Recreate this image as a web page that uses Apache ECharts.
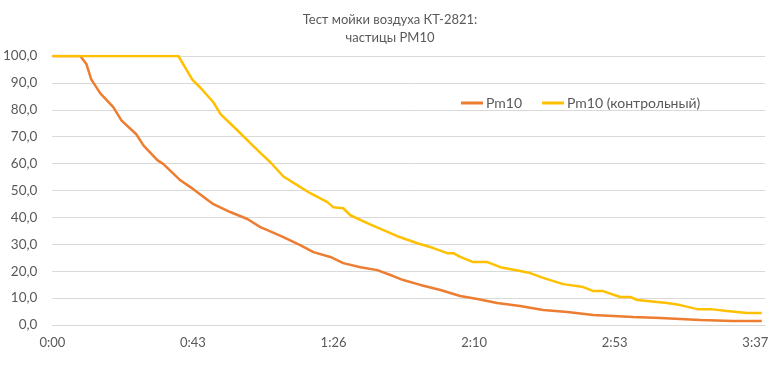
<!DOCTYPE html>
<html><head><meta charset="utf-8">
<script src="https://cdn.jsdelivr.net/npm/echarts@6/dist/echarts.min.js"></script>
<style>html,body{margin:0;padding:0;background:#fff}#c{width:780px;height:381px}</style>
</head><body><div id="c"></div>
<script>
const titleText = 'Тест мойки воздуха КТ-2821:\nчастицы PM10';
const seriesNames = ['Pm10', 'Pm10 (контрольный)'];
const xTickValues = [0, 43.4, 86.8, 130.2, 173.6, 217];
const xTickLabels = ['0:00', '0:43', '1:26', '2:10', '2:53', '3:37'];
// time in minutes
const pm10Times = [0, 8.6, 10.5, 12, 14.8, 18.8, 21.3, 25.9, 28.1, 32.4, 34.3, 39.5, 43.5, 49.7, 54.9, 60.2, 64.2, 66.4, 71.3, 76.5, 80.6, 85.8, 89.8, 95.1, 100.3, 105.2, 108.3, 113.6, 119.8, 125.9, 131.2, 137.3, 144.4, 151.5, 159, 167, 179.3, 187.7, 200, 210.2, 219];
const pm10Values = [100, 100, 97, 91.3, 86.1, 81.0, 76.1, 70.9, 66.8, 61.3, 59.8, 53.8, 50.5, 44.9, 42.0, 39.4, 36.4, 35.3, 32.7, 29.7, 27.1, 25.3, 23.0, 21.5, 20.4, 18.2, 16.7, 14.9, 13.0, 10.8, 9.7, 8.2, 7.1, 5.6, 4.8, 3.7, 3.0, 2.6, 1.9, 1.5, 1.5];
const ctrlTimes = [0, 38.9, 43.2, 45.7, 49.7, 51.9, 57.1, 61.1, 64.2, 67.3, 71.3, 75.6, 79.6, 84.9, 86.7, 89.8, 92, 97.2, 102.2, 106.5, 112.7, 117.6, 121.9, 123.8, 125.9, 129.9, 134.3, 138.3, 144.4, 147.5, 151.5, 157.7, 163.9, 167, 170, 175.3, 178.4, 180.6, 189.8, 193.8, 199.1, 203.1, 208.3, 214.5, 219];
const ctrlValues = [100, 100, 91.2, 88.2, 82.8, 78.4, 72.4, 67.6, 64.0, 60.5, 55.2, 52.0, 49.0, 45.7, 43.8, 43.4, 40.8, 37.9, 35.3, 33.0, 30.4, 28.6, 26.7, 26.7, 25.3, 23.4, 23.4, 21.5, 20.1, 19.3, 17.5, 15.2, 14.1, 12.6, 12.6, 10.4, 10.4, 9.3, 8.2, 7.4, 5.9, 5.9, 5.2, 4.5, 4.5];

const FONT = 'Lato, "Noto Sans", sans-serif';
const TXT = '#595959';
const chart = echarts.init(document.getElementById('c'), null, {renderer: 'canvas'});
chart.setOption({
  animation: false,
  backgroundColor: '#fff',
  title: {
    text: titleText, left: 'center', top: 6,
    textStyle: {fontFamily: FONT, fontSize: 13, fontWeight: 'normal', color: TXT, lineHeight: 18}
  },
  legend: {
    left: 456, top: 91, itemWidth: 22, itemHeight: 3, itemGap: 20, icon: 'rect',
    textStyle: {fontFamily: FONT, fontSize: 14, color: TXT, padding: [0, 0, 0, -2]},
    data: seriesNames
  },
  grid: {left: 52, right: 15, top: 56, bottom: 56, containLabel: false},
  xAxis: {
    type: 'value', min: 0, max: 220,
    axisLine: {show: true, lineStyle: {color: '#D9D9D9'}},
    axisTick: {show: false},
    splitLine: {show: false},
    axisLabel: {
      customValues: xTickValues,
      fontFamily: FONT, fontSize: 13, color: TXT, margin: 11,
      formatter: v => { const i = xTickValues.findIndex(t => Math.abs(t - v) < 0.01); return i >= 0 ? xTickLabels[i] : ''; }
    }
  },
  yAxis: {
    type: 'value', min: 0, max: 100, interval: 10,
    axisLine: {show: false}, axisTick: {show: false},
    splitLine: {lineStyle: {color: '#D9D9D9'}},
    axisLabel: {fontFamily: FONT, fontSize: 13.5, color: TXT, margin: 15,
      formatter: v => v.toFixed(1).replace('.', ',')}
  },
  series: [
    {name: seriesNames[0], type: 'line', showSymbol: false, symbol: 'none',
     data: pm10Times.map((t, i) => [t, pm10Values[i]]),
     lineStyle: {color: '#ED7D31', width: 2.5}, itemStyle: {color: '#ED7D31'}},
    {name: seriesNames[1], type: 'line', showSymbol: false, symbol: 'none',
     data: ctrlTimes.map((t, i) => [t, ctrlValues[i]]),
     lineStyle: {color: '#FFC000', width: 2.5}, itemStyle: {color: '#FFC000'}}
  ]
});
</script></body></html>
